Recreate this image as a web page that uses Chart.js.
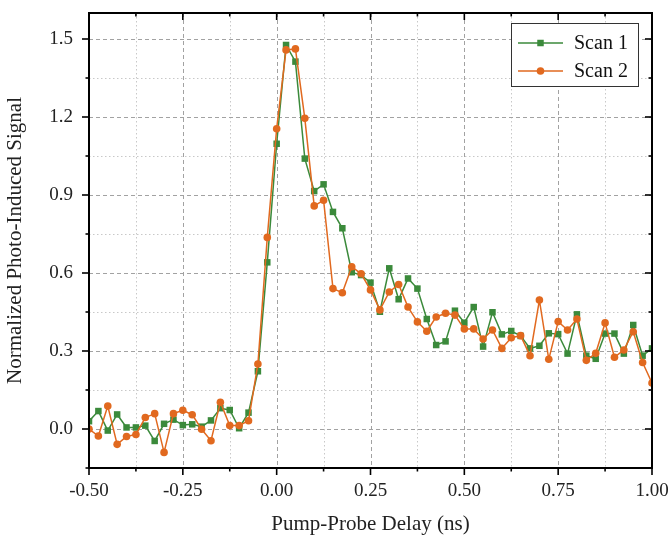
<!DOCTYPE html>
<html>
<head>
<meta charset="utf-8">
<title>Pump-Probe Scans</title>
<script src="https://cdn.jsdelivr.net/npm/chart.js@4.4.0/dist/chart.umd.min.js"></script>
<style>
  html, body { margin: 0; padding: 0; background: #fff; }
  #wrap { width: 670px; height: 535px; }
</style>
</head>
<body>
<div id="wrap"><canvas id="chartScans" width="670" height="535"></canvas></div>
<script>
'use strict';

// pump-probe delay (ns), one sample every 25 fs
var delay = [
  -0.500, -0.475, -0.450, -0.425, -0.400, -0.375, -0.350, -0.325, -0.300, -0.275,
  -0.250, -0.225, -0.200, -0.175, -0.150, -0.125, -0.100, -0.075, -0.050, -0.025,
   0.000,  0.025,  0.050,  0.075,  0.100,  0.125,  0.150,  0.175,  0.200,  0.225,
   0.250,  0.275,  0.300,  0.325,  0.350,  0.375,  0.400,  0.425,  0.450,  0.475,
   0.500,  0.525,  0.550,  0.575,  0.600,  0.625,  0.650,  0.675,  0.700,  0.725,
   0.750,  0.775,  0.800,  0.825,  0.850,  0.875,  0.900,  0.925,  0.950,  0.975,
   1.000
];

var scan1 = [
  0.030, 0.069, -0.006, 0.056, 0.006, 0.006, 0.013, -0.046, 0.020, 0.036,
  0.015, 0.018, 0.009, 0.033, 0.080, 0.073, 0.003, 0.063, 0.222, 0.641,
  1.097, 1.477, 1.413, 1.040, 0.915, 0.941, 0.835, 0.772, 0.603, 0.592,
  0.563, 0.451, 0.618, 0.499, 0.579, 0.540, 0.423, 0.323, 0.337, 0.455,
  0.409, 0.469, 0.317, 0.449, 0.364, 0.377, 0.358, 0.310, 0.320, 0.368,
  0.365, 0.290, 0.441, 0.282, 0.270, 0.367, 0.367, 0.290, 0.400, 0.282,
  0.310
];

var scan2 = [
  0.000, -0.027, 0.088, -0.059, -0.029, -0.021, 0.044, 0.059, -0.090, 0.059,
  0.072, 0.055, -0.001, -0.045, 0.103, 0.013, 0.013, 0.032, 0.250, 0.737,
  1.155, 1.458, 1.462, 1.195, 0.858, 0.880, 0.540, 0.524, 0.624, 0.597,
  0.535, 0.458, 0.527, 0.556, 0.469, 0.412, 0.376, 0.431, 0.445, 0.438,
  0.385, 0.385, 0.346, 0.381, 0.310, 0.351, 0.359, 0.282, 0.496, 0.268,
  0.413, 0.381, 0.423, 0.264, 0.291, 0.408, 0.276, 0.304, 0.374, 0.256,
  0.177
];

var xMajorTicks = [-0.5, -0.25, 0, 0.25, 0.5, 0.75, 1.0];
var xMinorTicks = [-0.375, -0.125, 0.125, 0.375, 0.625, 0.875];
var yMajorTicks = [0, 0.3, 0.6, 0.9, 1.2, 1.5];
var yMinorTicks = [-0.15, 0.15, 0.45, 0.75, 1.05, 1.35];

var GREEN = '#3b8a3b';
var ORANGE = '#e1691f';
var FONT = "'Liberation Serif', 'Times New Roman', serif";

function toPoints(values) {
    return values.map(function (v, i) { return { x: delay[i], y: v }; });
}

// crisp 1px line on the half pixel
function half(p) { return Math.round(p) + 0.5; }

// grid behind the data, frame + ticks + legend on top of it
var frameAndGrid = {
    id: 'frameAndGrid',
    beforeDatasetsDraw: function (chart) {
        var ctx = chart.ctx, a = chart.chartArea;
        var xs = chart.scales.x, ys = chart.scales.y;
        ctx.save();
        ctx.lineWidth = 1;

        function vlines(vals) {
            vals.forEach(function (v) {
                var px = half(xs.getPixelForValue(v));
                ctx.beginPath(); ctx.moveTo(px, a.top); ctx.lineTo(px, a.bottom); ctx.stroke();
            });
        }
        function hlines(vals) {
            vals.forEach(function (v) {
                var py = half(ys.getPixelForValue(v));
                ctx.beginPath(); ctx.moveTo(a.left, py); ctx.lineTo(a.right, py); ctx.stroke();
            });
        }

        // minor grid, dotted
        ctx.strokeStyle = '#c8c8c8';
        ctx.setLineDash([1.5, 2.5]);
        vlines(xMinorTicks);
        hlines(yMinorTicks);

        // major grid, dashed
        ctx.strokeStyle = '#a2a2a2';
        ctx.setLineDash([4, 3]);
        vlines(xMajorTicks);
        hlines(yMajorTicks);
        ctx.restore();
    },
    afterDatasetsDraw: function (chart) {
        var ctx = chart.ctx, a = chart.chartArea;
        var xs = chart.scales.x, ys = chart.scales.y;
        ctx.save();
        ctx.strokeStyle = '#000';
        ctx.setLineDash([]);

        // ticks: bottom/left point outwards, top/right point inwards
        ctx.lineWidth = 1.6;
        function xTick(v, len) {
            var px = xs.getPixelForValue(v);
            ctx.beginPath(); ctx.moveTo(px, a.bottom); ctx.lineTo(px, a.bottom + len); ctx.stroke();
            ctx.beginPath(); ctx.moveTo(px, a.top); ctx.lineTo(px, a.top + len); ctx.stroke();
        }
        function yTick(v, len) {
            var py = ys.getPixelForValue(v);
            ctx.beginPath(); ctx.moveTo(a.left, py); ctx.lineTo(a.left - len, py); ctx.stroke();
            ctx.beginPath(); ctx.moveTo(a.right, py); ctx.lineTo(a.right - len, py); ctx.stroke();
        }
        xMajorTicks.forEach(function (v) { xTick(v, 7); });
        xMinorTicks.forEach(function (v) { xTick(v, 3.5); });
        yMajorTicks.forEach(function (v) { yTick(v, 7); });
        yMinorTicks.forEach(function (v) { yTick(v, 3.5); });

        // frame
        ctx.lineWidth = 2;
        ctx.strokeRect(a.left, a.top, a.right - a.left, a.bottom - a.top);

        // legend box in the upper right corner
        var bx = a.right - 141, by = a.top + 10, bw = 127, bh = 63;
        ctx.fillStyle = '#fff';
        ctx.fillRect(bx, by, bw, bh);
        ctx.lineWidth = 1;
        ctx.strokeStyle = '#333';
        ctx.strokeRect(half(bx), half(by), bw, bh);

        ctx.font = '20px ' + FONT;
        ctx.textBaseline = 'middle';
        ctx.textAlign = 'left';
        chart.data.datasets.forEach(function (ds, i) {
            var ry = by + 20 + i * 28;
            ctx.strokeStyle = ds.borderColor;
            ctx.lineWidth = 1.5;
            ctx.beginPath(); ctx.moveTo(bx + 7, ry); ctx.lineTo(bx + 52, ry); ctx.stroke();
            ctx.fillStyle = ds.backgroundColor;
            Chart.helpers.drawPoint(ctx, {
                pointStyle: ds.pointStyle, radius: ds.pointRadius, rotation: 0, borderWidth: 0
            }, bx + 29.5, ry);
            ctx.fillStyle = '#111';
            ctx.fillText(ds.label, bx + 63, ry + 1);
        });
        ctx.restore();
    }
};

Chart.defaults.font.family = FONT;

var chartScans = new Chart(document.getElementById('chartScans').getContext('2d'), {
    type: 'line',
    data: {
        datasets: [
            {
                label: 'Scan 1',
                data: toPoints(scan1),
                borderColor: GREEN,
                backgroundColor: GREEN,
                borderWidth: 1.5,
                pointStyle: 'rect',
                pointRadius: 4.6,
                pointHoverRadius: 4.6,
                pointBorderWidth: 0,
                tension: 0,
                clip: 0,
                order: 1
            },
            {
                label: 'Scan 2',
                data: toPoints(scan2),
                borderColor: ORANGE,
                backgroundColor: ORANGE,
                borderWidth: 1.5,
                pointStyle: 'circle',
                pointRadius: 3.8,
                pointHoverRadius: 3.8,
                pointBorderWidth: 0,
                tension: 0,
                clip: 0,
                order: 0
            }
        ]
    },
    options: {
        responsive: false,
        animation: false,
        layout: { padding: { top: 13, right: 18, left: 0, bottom: 0 } },
        plugins: {
            legend: { display: false },
            tooltip: { enabled: false }
        },
        scales: {
            x: {
                type: 'linear',
                min: -0.5,
                max: 1.0,
                afterBuildTicks: function (s) { s.ticks = xMajorTicks.map(function (v) { return { value: v }; }); },
                afterFit: function (s) { s.height = 67; s.paddingLeft = 0; s.paddingRight = 0; },
                grid: { display: false, drawTicks: false },
                border: { display: false },
                ticks: {
                    padding: 12,
                    color: '#222',
                    font: { size: 19 },
                    maxRotation: 0,
                    autoSkip: false,
                    callback: function (v) { return v.toFixed(2); }
                },
                title: {
                    display: true,
                    text: 'Pump-Probe Delay (ns)',
                    color: '#222',
                    font: { size: 21, lineHeight: 1 },
                    padding: { top: 0, bottom: 0 }
                }
            },
            y: {
                type: 'linear',
                min: -0.15,
                max: 1.6,
                afterBuildTicks: function (s) { s.ticks = yMajorTicks.map(function (v) { return { value: v }; }); },
                afterFit: function (s) { s.width = 89; s.paddingTop = 0; s.paddingBottom = 0; },
                grid: { display: false, drawTicks: false },
                border: { display: false },
                ticks: {
                    padding: 16,
                    color: '#222',
                    font: { size: 19 },
                    autoSkip: false,
                    callback: function (v) { return v.toFixed(1); }
                },
                title: {
                    display: true,
                    text: 'Normalized Photo-Induced Signal',
                    color: '#222',
                    font: { size: 21, lineHeight: 1 },
                    padding: { top: 5, bottom: 0 }
                }
            }
        }
    },
    plugins: [frameAndGrid]
});
</script>
</body>
</html>
